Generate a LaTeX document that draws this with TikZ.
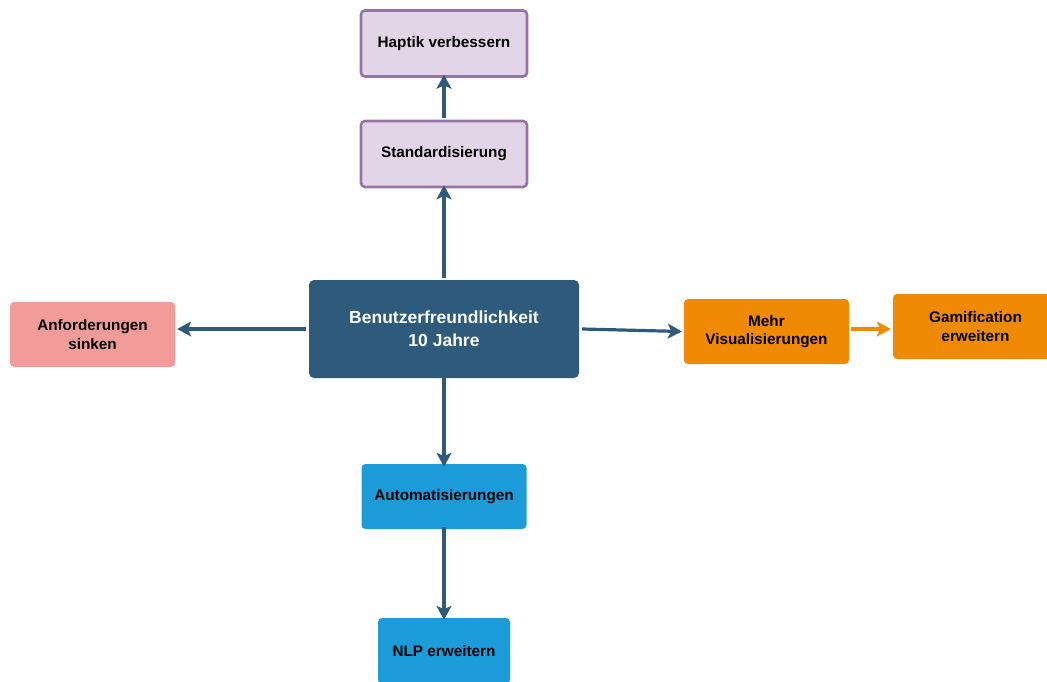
\documentclass[tikz,border=0pt]{standalone}
\usepackage{fontspec}
\setmainfont{Liberation Sans}
\usetikzlibrary{arrows.meta}
\definecolor{navy}{HTML}{2E5B7C}
\definecolor{lilac}{HTML}{E1D5E7}
\definecolor{lilacline}{HTML}{9673A6}
\definecolor{salmon}{HTML}{F19C99}
\definecolor{tangerine}{HTML}{F08A05}
\definecolor{sky}{HTML}{1B9BD8}
\begin{document}
\begin{tikzpicture}[x=1pt,y=-1pt,
  box/.style={rounded corners=4pt,minimum width=#1,align=center,
    font=\bfseries\fontsize{15.3}{18.5}\selectfont,inner sep=0pt},
  box/.default=166pt,
  lilacbox/.style={box,fill=lilac,draw=lilacline,line width=2.6pt,minimum height=66pt},
  salmonbox/.style={box=165pt,fill=salmon,minimum height=65pt},
  orangebox/.style={box=165pt,fill=tangerine,minimum height=65pt},
  bluebox/.style={box=165pt,fill=sky,minimum height=65pt},
  link/.style={draw=navy,line width=3.2pt,-{Stealth[length=14pt,width=15pt,inset=3.5pt]}},
  orangelink/.style={link,draw=tangerine}]
\useasboundingbox (0,0) rectangle (1047,681);
\node[rounded corners=5pt,fill=navy,minimum width=270pt,minimum height=98pt,align=center,
  text=white,font=\bfseries\fontsize{17.5}{23}\selectfont,inner sep=0pt]
  (core) at (444,329) {Benutzerfreundlichkeit\\10 Jahre};
\node[lilacbox] (std) at (444,154) {Standardisierung};
\node[lilacbox] (hap) at (444,43.5) {Haptik verbessern};
\node[salmonbox] (anf) at (92.5,334.5) {Anforderungen\\sinken};
\node[orangebox] (vis) at (766.5,331.5) {Mehr\\Visualisierungen};
\node[orangebox] (gam) at (975.5,326.5) {Gamification\\erweitern};
\node[bluebox] (aut) at (444,496.5) {Automatisierungen};
\node[box=132pt,fill=sky,minimum height=66pt] (nlp) at (444,651) {NLP erweitern};
\coordinate (orangey) at (0,329);
\draw[link] (core.north) ++(0,-2) -- ([yshift=3pt]std.south);
\draw[link] (std.north) ++(0,-2) -- ([yshift=3pt]hap.south);
\draw[link] ([xshift=-3pt]core.west) -- ([xshift=2pt]anf.east |- core.west);
\draw[link] ([xshift=3pt]core.east) -- ([xshift=-2pt]vis.west);
\draw[orangelink] ([xshift=2pt]vis.east |- orangey) -- ([xshift=-2pt]gam.west |- orangey);
\draw[link] ([yshift=2pt]core.south) -- ([yshift=-3pt]aut.north);
\draw[link] ([yshift=2pt]aut.south) -- ([yshift=-2pt]nlp.north);
\end{tikzpicture}
\end{document}
